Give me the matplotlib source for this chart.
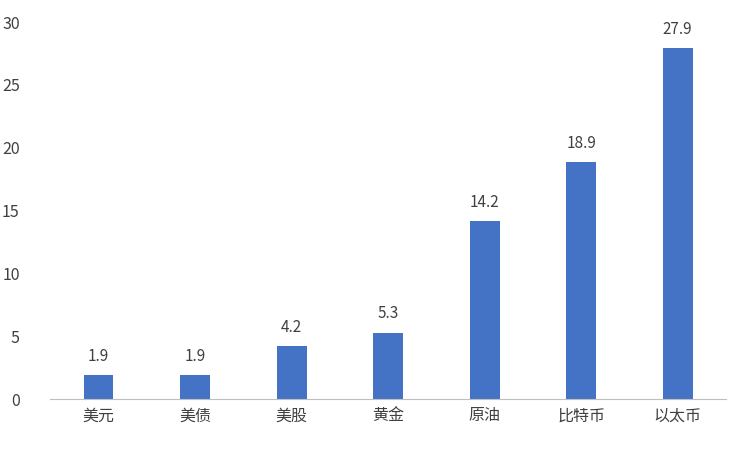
import matplotlib
matplotlib.use("Agg")
import matplotlib.pyplot as plt

plt.rcParams['font.family'] = ['Noto Sans CJK SC', 'DejaVu Sans']

categories = ["美元", "美债", "美股", "黄金", "原油", "比特币", "以太币"]
values = [1.9, 1.9, 4.2, 5.3, 14.2, 18.9, 27.9]

fig = plt.figure(figsize=(7.5, 4.5), dpi=100)
ax = fig.add_axes([0.067, 0.113, 0.901, 0.838])

x = range(len(categories))
bars = ax.bar(x, values, width=0.31, color="#4472C4", zorder=2)
for xi, v in zip(x, values):
    ax.text(xi, v + 0.8, f"{v:.1f}", ha="center", va="bottom", fontsize=11, color="#404040")

ax.set_xlim(-0.5, len(categories) - 0.5)
ax.set_ylim(0, 30)
ax.set_yticks(range(0, 31, 5))
ax.set_xticks(list(x))
ax.set_xticklabels(categories)
ax.tick_params(axis="both", length=0, labelsize=11.5, colors="#404040")
ax.tick_params(axis="y", pad=22)
ax.tick_params(axis="x", pad=6)

for side in ["top", "right", "left"]:
    ax.spines[side].set_visible(False)
ax.spines["bottom"].set_color("#BFBFBF")

fig.savefig("out.png", dpi=100)
